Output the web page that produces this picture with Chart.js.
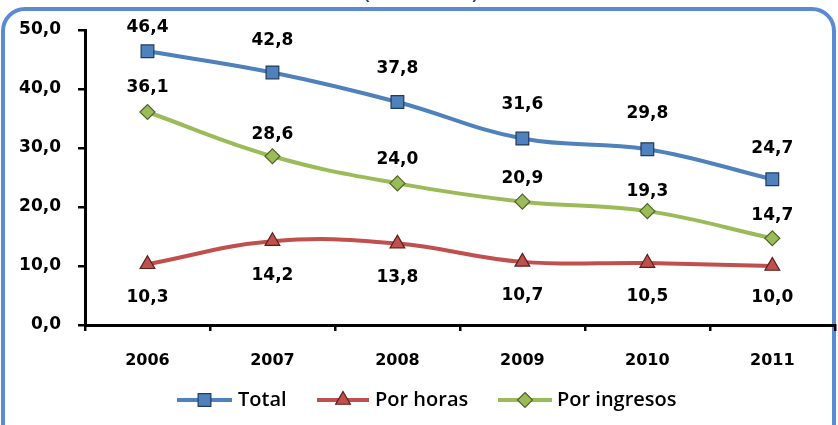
<!DOCTYPE html>
<html>
<head>
<meta charset="utf-8">
<script src="https://cdn.jsdelivr.net/npm/chart.js@4"></script>
<style>
  html, body { margin: 0; padding: 0; background: #ffffff; overflow: hidden; }
  #wrap { width: 845px; height: 425px; }
</style>
</head>
<body>
<div id="wrap"><canvas id="c" width="845" height="425"></canvas></div>
<script>
// ---- data ----
const categories = ['2006', '2007', '2008', '2009', '2010', '2011'];
const seriesNames = ['Total', 'Por horas', 'Por ingresos'];
const totalValues = [46.4, 42.8, 37.8, 31.6, 29.8, 24.7];
const horasValues = [10.3, 14.2, 13.8, 10.7, 10.5, 10.0];
const ingresosValues = [36.1, 28.6, 24.0, 20.9, 19.3, 14.7];
const yTicks = [0, 10, 20, 30, 40, 50];
const titleText = '(en % del total)';

// ---- styling ----
const styles = [
  { line: '#4F81BD', fill: '#4F81BD', edge: '#1F3B5E', point: 'rect', radius: 9, labelDy: [-24, -32, -33, -34, -36, -31] },
  { line: '#C0504D', fill: '#C0504D', edge: '#5A1E1C', point: 'triangle', radius: 8.5, labelDy: [33, 34, 34, 34, 34, 32] },
  { line: '#9BBB59', fill: '#9BBB59', edge: '#4F6428', point: 'rectRot', radius: 7.5, labelDy: [-24, -22, -24, -23, -20, -23] }
];
const seriesValues = [totalValues, horasValues, ingresosValues];
const fmt = v => v.toFixed(1).replace('.', ',');

const datasets = seriesValues.map((vals, i) => ({
  label: seriesNames[i],
  data: vals,
  borderColor: styles[i].line,
  backgroundColor: styles[i].fill,
  borderWidth: 4,
  tension: 0.4,
  pointStyle: styles[i].point,
  pointRadius: styles[i].radius,
  pointBackgroundColor: styles[i].fill,
  pointBorderColor: styles[i].edge,
  pointBorderWidth: 1.2,
  pointHoverRadius: styles[i].radius
}));

function drawShape(ctx, style, r, x, y) {
  if (style === 'rect') {
    const h = r * Math.SQRT1_2;
    ctx.rect(x - h, y - h, 2 * h, 2 * h);
  } else if (style === 'triangle') {
    ctx.moveTo(x, y - r);
    ctx.lineTo(x + r * Math.sin(Math.PI / 3), y + r * 0.5);
    ctx.lineTo(x - r * Math.sin(Math.PI / 3), y + r * 0.5);
    ctx.closePath();
  } else {
    ctx.moveTo(x, y - r);
    ctx.lineTo(x + r, y);
    ctx.lineTo(x, y + r);
    ctx.lineTo(x - r, y);
    ctx.closePath();
  }
}

const decorPlugin = {
  id: 'decor',
  beforeDraw(chart) {
    const ctx = chart.ctx;
    ctx.save();
    ctx.fillStyle = '#ffffff';
    ctx.fillRect(0, 0, chart.width, chart.height);
    // rounded border
    ctx.strokeStyle = '#5A8AD2';
    ctx.lineWidth = 4;
    ctx.beginPath();
    ctx.roundRect(3, 9, 831, 460, 22);
    ctx.stroke();
    // title fragment (cut at the top)
    ctx.fillStyle = '#1F497D';
    ctx.font = 'bold 16px "Liberation Sans"';
    ctx.textAlign = 'center';
    ctx.textBaseline = 'alphabetic';
    ctx.fillText(titleText, 421, -1);
    ctx.restore();
  },
  afterDatasetsDraw(chart) {
    const ctx = chart.ctx;
    ctx.save();
    ctx.font = 'bold 17px "DejaVu Sans"';
    ctx.fillStyle = '#000000';
    ctx.textAlign = 'center';
    ctx.textBaseline = 'middle';
    chart.data.datasets.forEach((ds, i) => {
      const meta = chart.getDatasetMeta(i);
      meta.data.forEach((pt, j) => {
        ctx.fillText(fmt(ds.data[j]), pt.x, pt.y + styles[i].labelDy[j]);
      });
    });
    ctx.restore();
  },
  afterDraw(chart) {
    const ctx = chart.ctx;
    const items = [
      { x1: 177, x2: 232, tx: 238 },
      { x1: 317, x2: 369, tx: 375 },
      { x1: 498, x2: 552, tx: 557 }
    ];
    const y = 400;
    ctx.save();
    items.forEach((it, i) => {
      const s = styles[i];
      ctx.strokeStyle = s.line;
      ctx.lineWidth = 4;
      ctx.beginPath();
      ctx.moveTo(it.x1, y);
      ctx.lineTo(it.x2, y);
      ctx.stroke();
      ctx.fillStyle = s.fill;
      ctx.strokeStyle = s.edge;
      ctx.lineWidth = 1.2;
      ctx.beginPath();
      drawShape(ctx, s.point, s.radius, (it.x1 + it.x2) / 2, y);
      ctx.fill();
      ctx.stroke();
      ctx.fillStyle = '#000000';
      ctx.font = '600 20px "Open Sans"';
      ctx.textAlign = 'left';
      ctx.textBaseline = 'middle';
      ctx.fillText(seriesNames[i], it.tx, y);
    });
    ctx.restore();
  }
};

new Chart(document.getElementById('c'), {
  type: 'line',
  data: { labels: categories, datasets },
  options: {
    responsive: false,
    animation: false,
    devicePixelRatio: 1,
    layout: { padding: { left: 0, right: 4, top: 30, bottom: 50 } },
    plugins: { legend: { display: false }, tooltip: { enabled: false }, title: { display: false } },
    scales: {
      x: {
        offset: true,
        afterFit(scale) { scale.height = 50; },
        grid: { offset: true, drawOnChartArea: false, drawTicks: true, tickLength: 6, color: '#000000', lineWidth: 2.5 },
        border: { display: true, color: '#000000', width: 3 },
        ticks: { color: '#000000', padding: 20, font: { family: 'DejaVu Sans', size: 16, weight: 'bold' } }
      },
      y: {
        min: 0, max: 50,
        afterFit(scale) { scale.width = 85; },
        afterBuildTicks(scale) { scale.ticks = yTicks.map(v => ({ value: v })); },
        grid: { drawOnChartArea: false, drawTicks: true, tickLength: 7, color: '#000000', lineWidth: 2.5 },
        border: { display: true, color: '#000000', width: 3 },
        ticks: { color: '#000000', padding: 17, callback: v => fmt(v), font: { family: 'DejaVu Sans', size: 17, weight: 'bold' } }
      }
    }
  },
  plugins: [decorPlugin]
});
</script>
</body>
</html>
